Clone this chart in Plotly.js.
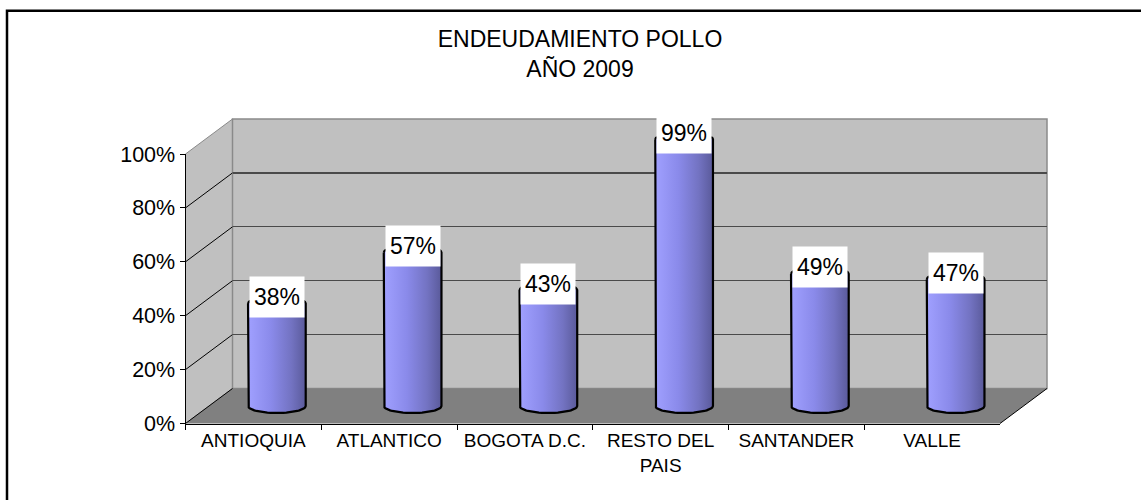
<!DOCTYPE html>
<html>
<head>
<meta charset="utf-8">
<script src="https://cdn.plot.ly/plotly-3.0.1.min.js"></script>
<style>html,body{margin:0;padding:0;background:#fff;}#chart{width:1141px;height:500px;}</style>
</head>
<body>
<div id="chart"></div>
<script>
// ---- data ----
const categories = ['ANTIOQUIA', 'ATLANTICO', 'BOGOTA D.C.', 'RESTO DEL<br>PAIS', 'SANTANDER', 'VALLE'];
const values = [0.38, 0.57, 0.43, 0.99, 0.49, 0.47];
const valueLabels = ['38%', '57%', '43%', '99%', '49%', '47%'];
const yTickVals = [0, 0.2, 0.4, 0.6, 0.8, 1.0];
const yTickText = ['0%', '20%', '40%', '60%', '80%', '100%'];
const titleText = 'ENDEUDAMIENTO POLLO<br>AÑO 2009';

// ---- geometry (pixels) ----
const W = 1141, H = 500;
const FX0 = 185.5, FX1 = 1000, FY0 = 423.5, FY1 = 154;
const DX = 47, DY = -35;
const PXPERVAL = FY0 - FY1;
const px = x => x / W, py = y => 1 - y / H;
const FONT = '"Liberation Sans", Arial, sans-serif';

const idx = categories.map((c, i) => i);
const halfW = 0.2125;              // cylinder half width, category units
const ry = 7 / PXPERVAL;           // ellipse half height, value units
const LOW = 0.1;                   // extra range below zero on cylinder axis
const NARC = 28;

const traces = [];
traces.push({type: 'scatter', x: categories, y: values, mode: 'none', xaxis: 'x', yaxis: 'y', hoverinfo: 'skip', showlegend: false});
traces.push({type: 'scatter', x: idx, y: values, mode: 'none', xaxis: 'x2', yaxis: 'y2', hoverinfo: 'skip', showlegend: false});

// cylinders
values.forEach((v, i) => {
  const xs = [], ys = [];
  xs.push(i - halfW); ys.push(v);
  for (let k = 0; k <= NARC; k++) {
    const t = Math.PI * k / NARC;
    xs.push(i - halfW * Math.cos(t)); ys.push(-ry * Math.sin(t));
  }
  for (let k = 0; k <= NARC; k++) {
    const t = Math.PI * k / NARC;
    xs.push(i + halfW * Math.cos(t)); ys.push(v + ry * Math.sin(t));
  }
  traces.push({
    type: 'scatter', x: xs, y: ys, mode: 'lines', fill: 'toself',
    line: {color: '#000', width: 2.2},
    fillcolor: '#8585E6',
    fillgradient: {type: 'horizontal', colorscale: [[0, '#A0A0FF'], [0.4, '#8A8AEA'], [0.75, '#7373C2'], [1, '#5A5A9A']]},
    xaxis: 'x3', yaxis: 'y3', hoverinfo: 'skip', showlegend: false, name: categories[i]
  });
});

// ---- shapes ----
const shapes = [];
const P = (x, y) => px(x).toFixed(5) + ',' + py(y).toFixed(5);
shapes.push({type: 'path', xref: 'paper', yref: 'paper', layer: 'below',
  path: 'M' + P(FX0, FY0) + 'L' + P(FX0, FY1) + 'L' + P(FX0 + DX, FY1 + DY) + 'L' + P(FX0 + DX, FY0 + DY) + 'Z',
  fillcolor: '#C0C0C0', line: {color: '#8A8A8A', width: 1}});
shapes.push({type: 'rect', xref: 'paper', yref: 'paper', layer: 'below',
  x0: px(FX0 + DX), x1: px(FX1 + DX), y0: py(FY0 + DY), y1: py(FY1 + DY),
  fillcolor: '#C0C0C0', line: {color: '#8A8A8A', width: 1.5}});
shapes.push({type: 'path', xref: 'paper', yref: 'paper', layer: 'below',
  path: 'M' + P(FX0, FY0) + 'L' + P(FX1, FY0) + 'L' + P(FX1 + DX, FY0 + DY) + 'L' + P(FX0 + DX, FY0 + DY) + 'Z',
  fillcolor: '#808080', line: {color: '#808080', width: 0}});
shapes.push({type: 'line', xref: 'paper', yref: 'paper', layer: 'below',
  x0: px(FX1), y0: py(FY0), x1: px(FX1 + DX), y1: py(FY0 + DY), line: {color: '#000', width: 1}});
const depthVal = -DY / PXPERVAL;
yTickVals.forEach(v => {
  shapes.push({type: 'line', xref: 'paper', yref: 'y', layer: 'below',
    x0: px(FX0), y0: v, x1: px(FX0 + DX), y1: v + depthVal, line: {color: '#000', width: 1}});
});
shapes.push({type: 'rect', xref: 'paper', yref: 'paper', layer: 'above',
  x0: px(7), y0: py(10.7), x1: 1.05, y1: -0.05, line: {color: '#000', width: 2.5}, fillcolor: 'rgba(0,0,0,0)'});

// ---- data labels ----
const annotations = values.map((v, i) => ({
  xref: 'x3', yref: 'y3', x: i, y: v, text: valueLabels[i], showarrow: false,
  xanchor: 'center', yanchor: 'middle', yshift: 6.5, width: 52, height: 38, align: 'center', valign: 'middle',
  bgcolor: '#FFFFFF', borderpad: 1, font: {family: FONT, size: 23, color: '#000'}
}));

const layout = {
  width: W, height: H,
  margin: {l: 0, r: 0, t: 0, b: 0, pad: 0},
  paper_bgcolor: '#FFFFFF', plot_bgcolor: 'rgba(0,0,0,0)',
  showlegend: false,
  font: {family: FONT, color: '#000'},
  title: {text: titleText, x: 580 / W, xanchor: 'center', y: 1 - 47 / H, yanchor: 'top', yref: 'container',
    font: {family: FONT, size: 23, color: '#000'}},
  xaxis: {domain: [px(FX0), px(FX1)], type: 'category', categoryorder: 'array', categoryarray: categories,
    range: [-0.5, categories.length - 0.5], showline: true, linecolor: '#000', linewidth: 1,
    ticks: 'outside', tickson: 'boundaries', ticklen: 5, tickcolor: '#000', showgrid: false, zeroline: false,
    tickfont: {family: FONT, size: 19, color: '#000'}, fixedrange: true, anchor: 'y'},
  yaxis: {domain: [py(FY0), py(FY1)], range: [0, 1], tickmode: 'array', tickvals: yTickVals, ticktext: yTickText,
    showline: true, linecolor: '#000', linewidth: 1, ticks: 'outside', ticklen: 5, tickcolor: '#000',
    showgrid: false, zeroline: false, tickfont: {family: FONT, size: 21.5, color: '#000'}, fixedrange: true, anchor: 'x'},
  xaxis2: {domain: [px(FX0 + DX), px(FX1 + DX)], range: [-0.5, categories.length - 0.5], showline: false,
    showgrid: false, zeroline: false, showticklabels: false, ticks: '', anchor: 'y2', fixedrange: true},
  yaxis2: {domain: [py(FY0 + DY), py(FY1 + DY)], range: [0, 1], tickmode: 'array', tickvals: yTickVals,
    showgrid: true, gridcolor: '#4A4A4A', gridwidth: 1.3, showline: false, zeroline: false,
    showticklabels: false, ticks: '', anchor: 'x2', fixedrange: true},
  xaxis3: {domain: [px(FX0 + DX / 2), px(FX1 + DX / 2)], range: [-0.5, categories.length - 0.5], visible: false,
    anchor: 'y3', fixedrange: true},
  yaxis3: {domain: [py(FY0 + DY / 2 + LOW * PXPERVAL), py(FY1 + DY / 2)], range: [-LOW, 1], visible: false, anchor: 'x3', fixedrange: true},
  shapes: shapes,
  annotations: annotations
};

Plotly.newPlot('chart', traces, layout, {displayModeBar: false, staticPlot: true});
</script>
</body>
</html>
